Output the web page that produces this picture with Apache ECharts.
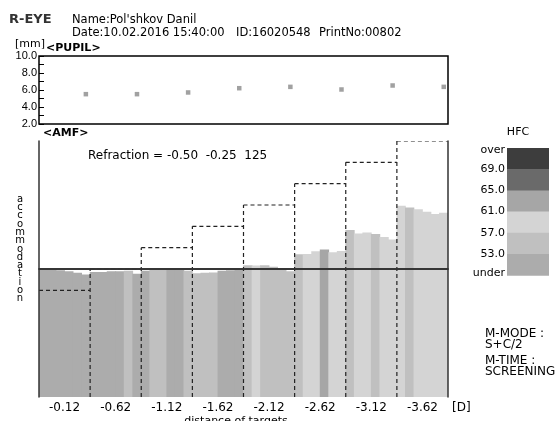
<!DOCTYPE html>
<html><head><meta charset="utf-8">
<script src="https://cdn.jsdelivr.net/npm/echarts@6/dist/echarts.min.js"></script>
<style>html,body{margin:0;padding:0;background:#fff}#c{width:560px;height:421px}</style>
</head><body><div id="c"></div>
<script>
// ---- data ----
const targets = ['-0.12','-0.62','-1.12','-1.62','-2.12','-2.62','-3.12','-3.62'];
const targetLevels = [-0.5, 0, 0.5, 1.0, 1.5, 2.0, 2.5, 3.0];
const pupilSize = [5.51, 5.51, 5.71, 6.21, 6.37, 6.06, 6.53, 6.37];
const pupilTicks = [2, 10];
const accommodation = [
  -0.02,-0.02,-0.03,-0.05,-0.09,-0.13,
  -0.07,-0.07,-0.05,-0.05,-0.04,-0.11,
  -0.04,-0.02,-0.02, 0.00,-0.01,-0.04,
  -0.10,-0.09,-0.08,-0.04,-0.03,-0.02,
   0.085,0.08,0.085,0.055,0.015,-0.05,
   0.345,0.35,0.415,0.455,0.395,0.42,
   0.915,0.83,0.855,0.82,0.75,0.69,
   1.48, 1.44, 1.40, 1.34, 1.29, 1.32
];
const hfc = [
  51,51,51,51,51,51,
  51,51,51,51,55,51,
  51,55,55,51,51,55,
  55,55,55,51,51,51,
  55,59,55,55,55,55,
  55,59,59,63,59,59,
  55,59,59,55,59,59,
  59,55,59,59,59,59
];
const hfcLabels = ['over','69.0','65.0','61.0','57.0','53.0','under'];
const hfcColors = ['#3d3d3d','#6a6a6a','#a6a6a6','#d4d4d4','#c0c0c0','#acacac'];
const refractionText = 'Refraction = -0.50  -0.25  125';

// ---- chart ----
const FONT = 'DejaVu Sans';
const chart = echarts.init(document.getElementById('c'), null, {renderer: 'canvas'});
const samples = accommodation.map((_, i) => String(i));
const perTarget = accommodation.length / targets.length;
const pupilData = pupilSize.map((v, i) => [i * perTarget + perTarget - 1, v]);
const barData = accommodation.map((v, i) => [i, v, hfc[i]]);
const stepData = targetLevels.map((v, i) => [i, v]);
const dashStyle = {stroke: '#222', lineWidth: 1.2, lineDash: [4, 3], fill: null};

const legendGraphics = [];
const lgTop = 148, lgH = 21.2, lgLeft = 507, lgW = 42;
hfcColors.forEach((c, i) => {
  legendGraphics.push({type: 'rect', left: lgLeft, top: lgTop + i * lgH, shape: {width: lgW, height: lgH + 0.5}, style: {fill: c}});
});
hfcLabels.forEach((t, i) => {
  legendGraphics.push({type: 'text', x: 505, y: lgTop + i * lgH + (i === 0 ? 2 : 0) - (i === hfcLabels.length - 1 ? 2 : 0),
    style: {text: t, font: '11px ' + FONT, fill: '#000', align: 'right', verticalAlign: 'middle'}});
});

const vertical = 'accommodation'.split('').join('\n');

chart.setOption({
  animation: false,
  textStyle: {fontFamily: FONT},
  grid: [
    {left: 39, top: 56, width: 409, height: 68, show: true, borderColor: '#000', borderWidth: 1.5, backgroundColor: 'transparent'},
    {left: 39, top: 141, width: 409, height: 256, show: false}
  ],
  xAxis: [
    {gridIndex: 0, type: 'category', data: samples, boundaryGap: true, show: false},
    {gridIndex: 1, type: 'category', data: samples, boundaryGap: true, position: 'top', z: 10,
      axisLine: {show: true, lineStyle: {color: '#333', width: 1.5}}, axisTick: {show: false}, axisLabel: {show: false}, splitLine: {show: false}},
    {gridIndex: 1, type: 'category', data: targets, boundaryGap: true, position: 'bottom', z: 10,
      axisLine: {show: true, lineStyle: {color: '#333', width: 1.5}}, axisTick: {show: false},
      axisLabel: {show: true, margin: 5, color: '#000', fontSize: 12, fontFamily: FONT}, splitLine: {show: false}}
  ],
  yAxis: [
    {gridIndex: 0, type: 'value', min: pupilTicks[0], max: pupilTicks[1], interval: 1,
      axisLine: {show: false}, axisTick: {show: true, inside: true, length: 5, lineStyle: {color: '#000'}},
      axisLabel: {margin: 2, color: '#000', fontSize: 11, fontFamily: 'Liberation Sans', formatter: v => (v % 2 === 0 ? v.toFixed(1) : '')},
      splitLine: {show: false}},
    {gridIndex: 1, type: 'value', min: -3, max: 3, startValue: -3, position: 'left', z: 10,
      axisLine: {show: true, onZero: false, lineStyle: {color: '#333', width: 1.5}}, axisTick: {show: false}, axisLabel: {show: false}, splitLine: {show: false}},
    {gridIndex: 1, type: 'value', min: -3, max: 3, position: 'right', z: 10,
      axisLine: {show: true, onZero: false, lineStyle: {color: '#333', width: 1.5}}, axisTick: {show: false}, axisLabel: {show: false}, splitLine: {show: false}}
  ],
  visualMap: {
    show: false, type: 'piecewise', seriesIndex: 1, dimension: 2,
    pieces: [
      {lt: 53, color: hfcColors[5]},
      {gte: 53, lt: 57, color: hfcColors[4]},
      {gte: 57, lt: 61, color: hfcColors[3]},
      {gte: 61, lt: 65, color: hfcColors[2]},
      {gte: 65, lt: 69, color: hfcColors[1]},
      {gte: 69, color: hfcColors[0]}
    ]
  },
  series: [
    {type: 'scatter', xAxisIndex: 0, yAxisIndex: 0, data: pupilData, symbol: 'rect', symbolSize: 4.5,
      itemStyle: {color: '#8a8a8a'}},
    {type: 'bar', xAxisIndex: 1, yAxisIndex: 1, data: barData, encode: {x: 0, y: 1},
      barWidth: 9.3, itemStyle: {borderWidth: 0},
      markLine: {silent: true, symbol: 'none', label: {show: false},
        lineStyle: {color: '#444', width: 1.5, type: 'solid'}, data: [{yAxis: 0}]}},
    {type: 'custom', xAxisIndex: 2, yAxisIndex: 1, data: stepData, clip: true, z: 5,
      renderItem: function (params, api) {
        const i = api.value(0);
        const v = api.value(1);
        const c = api.coord([i, v]);
        const w = api.size([1, 0])[0];
        const bottom = api.coord([i, -3])[1];
        const left = c[0] - w / 2, right = c[0] + w / 2;
        const children = [{type: 'line', shape: {x1: left, y1: c[1], x2: right, y2: c[1]}, style: dashStyle}];
        if (i > 0) {
          const top = api.coord([i, Math.max(v, targetLevels[i - 1])])[1];
          children.push({type: 'line', shape: {x1: left, y1: bottom, x2: left, y2: top}, style: dashStyle});
        }
        return {type: 'group', children: children};
      }}
  ],
  graphic: [
    {type: 'text', x: 9, y: 20, style: {text: 'R-EYE', font: 'bold 13px ' + FONT, fill: '#333', verticalAlign: 'middle'}},
    {type: 'text', x: 72, y: 20, style: {text: "Name:Pol'shkov Danil", font: '11.5px ' + FONT, fill: '#000', verticalAlign: 'middle'}},
    {type: 'text', x: 72, y: 33, style: {text: 'Date:10.02.2016 15:40:00', font: '11.5px ' + FONT, fill: '#000', verticalAlign: 'middle'}},
    {type: 'text', x: 236, y: 33, style: {text: 'ID:16020548', font: '11.5px ' + FONT, fill: '#000', verticalAlign: 'middle'}},
    {type: 'text', x: 319, y: 33, style: {text: 'PrintNo:00802', font: '11.5px ' + FONT, fill: '#000', verticalAlign: 'middle'}},
    {type: 'text', x: 15, y: 44, style: {text: '[mm]', font: '11px ' + FONT, fill: '#000', verticalAlign: 'middle'}},
    {type: 'text', x: 46, y: 48, style: {text: '<PUPIL>', font: 'bold 11px ' + FONT, fill: '#000', verticalAlign: 'middle'}},
    {type: 'text', x: 43, y: 133, style: {text: '<AMF>', font: 'bold 11px ' + FONT, fill: '#000', verticalAlign: 'middle'}},
    {type: 'text', x: 88, y: 156, style: {text: refractionText, font: '12px ' + FONT, fill: '#000', verticalAlign: 'middle'}},
    {type: 'text', x: 20, y: 249, style: {text: vertical, font: '10px ' + FONT, fill: '#000', align: 'center', verticalAlign: 'middle', lineHeight: 8.3}},
    {type: 'text', x: 236, y: 416, style: {text: 'distance of targets', font: '11px ' + FONT, fill: '#000', align: 'center', verticalAlign: 'top'}},
    {type: 'text', x: 452, y: 408, style: {text: '[D]', font: '12px ' + FONT, fill: '#000', verticalAlign: 'middle'}},
    {type: 'text', x: 518, y: 132, style: {text: 'HFC', font: '11px ' + FONT, fill: '#000', align: 'center', verticalAlign: 'middle'}},
    {type: 'text', x: 485, y: 334, style: {text: 'M-MODE :', font: '12px ' + FONT, fill: '#000', verticalAlign: 'middle'}},
    {type: 'text', x: 485, y: 345, style: {text: 'S+C/2', font: '12px ' + FONT, fill: '#000', verticalAlign: 'middle'}},
    {type: 'text', x: 485, y: 361, style: {text: 'M-TIME :', font: '12px ' + FONT, fill: '#000', verticalAlign: 'middle'}},
    {type: 'text', x: 485, y: 372, style: {text: 'SCREENING', font: '12px ' + FONT, fill: '#000', verticalAlign: 'middle'}}
  ].concat(legendGraphics)
});
</script>
</body></html>
